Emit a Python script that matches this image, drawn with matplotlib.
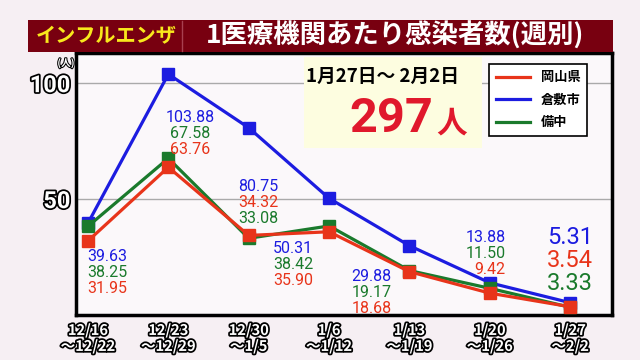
import matplotlib.pyplot as plt
import matplotlib.patheffects as pe
from matplotlib.patches import Rectangle
from matplotlib.lines import Line2D

# data
weeks = ["12/16\n～12/22", "12/23\n～12/29", "12/30\n～1/5", "1/6\n～1/12",
         "1/13\n～1/19", "1/20\n～1/26", "1/27\n～2/2"]
kurashiki = [39.63, 103.88, 80.75, 50.31, 29.88, 13.88, 5.31]
okayama = [31.95, 63.76, 34.32, 35.90, 18.68, 9.42, 3.54]
bichu = [38.25, 67.58, 33.08, 38.42, 19.17, 11.50, 3.33]
period = "1月27日～ 2月2日"
total = "297"

RED = "#e8341a"
BLUE = "#1c1ce0"
GREEN = "#1a7a2c"
JP = ["Noto Sans CJK JP", "DejaVu Sans"]
NUM = ["Roboto", "Noto Sans CJK JP"]

# (dx, dy, align) of the top label line, pixels from the blue point
lab_off = [(19, -33, "center"), (22, -43, "center"), (10, -59, "center"),
           (-36, -50, "center"), (-38, -31, "center"), (16, 45, "right"),
           (23, 65, "right")]

fig = plt.figure(figsize=(6.4, 3.6), dpi=100, facecolor="#f6eff3")
ax = fig.add_axes([76/640, 1-315/360, 536/640, 262/360])
ax.set_facecolor("#fbf8fa")

x = list(range(len(weeks)))
series = [("倉敷市", kurashiki, BLUE), ("備中", bichu, GREEN), ("岡山県", okayama, RED)]
for name, vals, col in series:
    ax.plot(x, vals, color=col, lw=2.3, marker="s", ms=8.5, zorder=3)

ax.set_xlim(-0.149, 6.52)
ax.set_ylim(0, 113)
for v in (50, 100):
    ax.axhline(v, color="#aaaaaa", lw=1, zorder=1)

outline = [pe.withStroke(linewidth=2.5, foreground="black")]
ax.set_yticks([50, 100])
ax.set_yticklabels(["50", "100"], fontsize=17, fontweight="bold", color="white",
                   family=NUM, path_effects=outline)
ax.set_xticks(x)
ax.set_xticklabels(weeks, fontsize=10.5, fontweight="bold", color="white",
                   family=JP, path_effects=outline, linespacing=1.0)
ax.tick_params(length=0)
ax.tick_params(axis="y", pad=4)
ax.tick_params(axis="x", pad=5)
for s in ax.spines.values():
    s.set_linewidth(2.5)
    s.set_color("black")
fig.text(66/640, 1-63/360, "(人)", fontsize=7, color="white", family=JP,
         fontweight="bold", ha="center", va="center",
         path_effects=[pe.withStroke(linewidth=1.5, foreground="black")])

# value labels, sorted high to low at each week
for i in x:
    vals = sorted([(v[i], c) for _, v, c in series], key=lambda t: -t[0])
    dx, dy, ha = lab_off[i]
    last = i == len(x) - 1
    gap = 23 if last else 16
    fs = 17 if last else 11.5
    for k, (v, c) in enumerate(vals):
        ax.annotate(f"{v:.2f}", (i, kurashiki[i]), xytext=(dx, dy - k*gap),
                    textcoords="offset pixels", ha=ha, va="center",
                    fontsize=fs, color=c, family=NUM, zorder=5)

# yellow box with weekly total
ax.add_patch(Rectangle((0.425, 0.637), 0.332, 0.348, transform=ax.transAxes,
                       facecolor="#fdfde0", edgecolor="none", zorder=2))
ax.text(0.571, 0.912, period, transform=ax.transAxes, ha="center", va="center",
        fontsize=13.5, fontweight="bold", family=JP, zorder=6)
ax.text(0.666, 0.698, total, transform=ax.transAxes, ha="right", va="baseline",
        fontsize=35, fontweight="bold", color="#e0182c", family=NUM, zorder=6)
ax.text(0.672, 0.698, "人", transform=ax.transAxes, ha="left", va="baseline",
        fontsize=22, fontweight="bold", color="#e0182c", family=JP, zorder=6)

handles = [Line2D([], [], color=RED, lw=2.3), Line2D([], [], color=BLUE, lw=2.3),
           Line2D([], [], color=GREEN, lw=2.3)]
leg = ax.legend(handles, ["岡山県", "倉敷市", "備中"], loc="upper right",
                bbox_to_anchor=(0.966, 0.985), prop={"family": JP, "size": 9.5, "weight": "bold"},
                handlelength=2.6, labelspacing=0.65, borderpad=0.5, fancybox=False,
                framealpha=1, edgecolor="black")
leg.get_frame().set_linewidth(1.2)
leg.set_zorder(6)

# title bar
fig.patches.append(Rectangle((28/640, 1-52/360), 585/640, 32/360, transform=fig.transFigure,
                             facecolor="#780010", edgecolor="none"))
fig.lines.append(Line2D([182/640, 182/640], [1-51/360, 1-21/360], transform=fig.transFigure,
                        color="#a84050", lw=1))
fig.text(106/640, 1-36/360, "インフルエンザ", ha="center", va="center", fontsize=14.5,
         fontweight="bold", color="#f8e81c", family=JP)
fig.text(395/640, 1-36/360, "1医療機関あたり感染者数(週別)", ha="center", va="center",
         fontsize=19, fontweight="bold", color="white", family=JP)

fig.savefig("out.png", dpi=100, facecolor=fig.get_facecolor())
